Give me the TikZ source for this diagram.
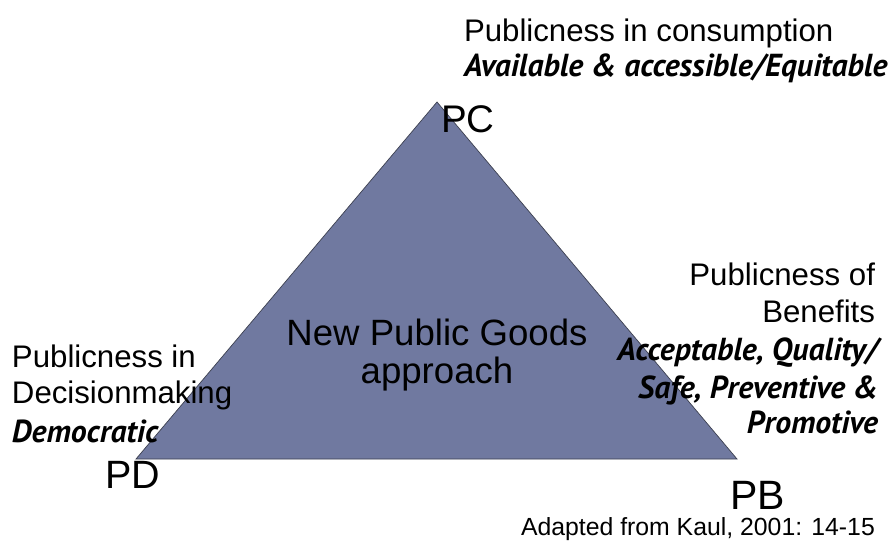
\documentclass[tikz,border=0pt]{standalone}
\usepackage{fontspec}
\setmainfont{Liberation Sans}
\newfontfamily\emfont{PT Sans}
\definecolor{trifill}{RGB}{112,121,160}
\definecolor{triedge}{RGB}{60,64,80}
\begin{document}
\begin{tikzpicture}[x=1pt,y=-1pt,
  txt/.style={inner sep=0pt,outer sep=0pt,text=black},
  reg/.style={txt,font=\fontsize{31.2}{36}\selectfont},
  emph/.style={txt,font=\fontsize{31.8}{36}\selectfont\emfont\bfseries\itshape},
  vlab/.style={txt,font=\fontsize{38.5}{44}\selectfont},
  ctr/.style={txt,font=\fontsize{36.6}{42}\selectfont},
  src/.style={txt,font=\fontsize{24.8}{28}\selectfont}]
\useasboundingbox (0,0) rectangle (889,541);
\coordinate (C) at (437,102);
\coordinate (B) at (737,459);
\coordinate (D) at (136,459);
\draw[fill=trifill,draw=triedge,line width=0.7pt,line join=miter] (C) -- (B) -- (D) -- cycle;
% top
\node[reg,anchor=base west] (pc1) at (464,41) {Publicness in consumption};
\node[emph,anchor=base west] (pc2) at (464,76) {Available \& accessible/Equitable};
\node[vlab,anchor=base west] (pc) at (441,132) {PC};
% centre
\node[ctr,anchor=base] (n1) at (437,345) {New Public Goods};
\node[ctr,anchor=base] (n2) at (437,383) {approach};
% right
\node[reg,anchor=base east] (pb1) at (875,285) {Publicness of};
\node[reg,anchor=base east] (pb2) at (875,322) {Benefits};
\node[emph,anchor=base east] (pb3) at (878,360) {Acceptable, Quality/};
\node[emph,anchor=base east] (pb4) at (878,398) {Safe, Preventive \&};
\node[emph,anchor=base east] (pb5) at (878,433) {Promotive};
\node[vlab,anchor=base west,font=\fontsize{41}{46}\selectfont] (pb) at (730,509) {PB};
% left
\node[reg,anchor=base west] (pd1) at (12,367) {Publicness in};
\node[reg,anchor=base west] (pd2) at (12,403) {Decisionmaking};
\node[emph,anchor=base west] (pd3) at (12,442) {Democratic};
\node[vlab,anchor=base west,font=\fontsize{39.5}{44}\selectfont] (pd) at (105,488) {PD};
% source
\node[src,anchor=base west] (srcnote) at (521,535) {Adapted from Kaul, 2001: 14-15};
\end{tikzpicture}
\end{document}
